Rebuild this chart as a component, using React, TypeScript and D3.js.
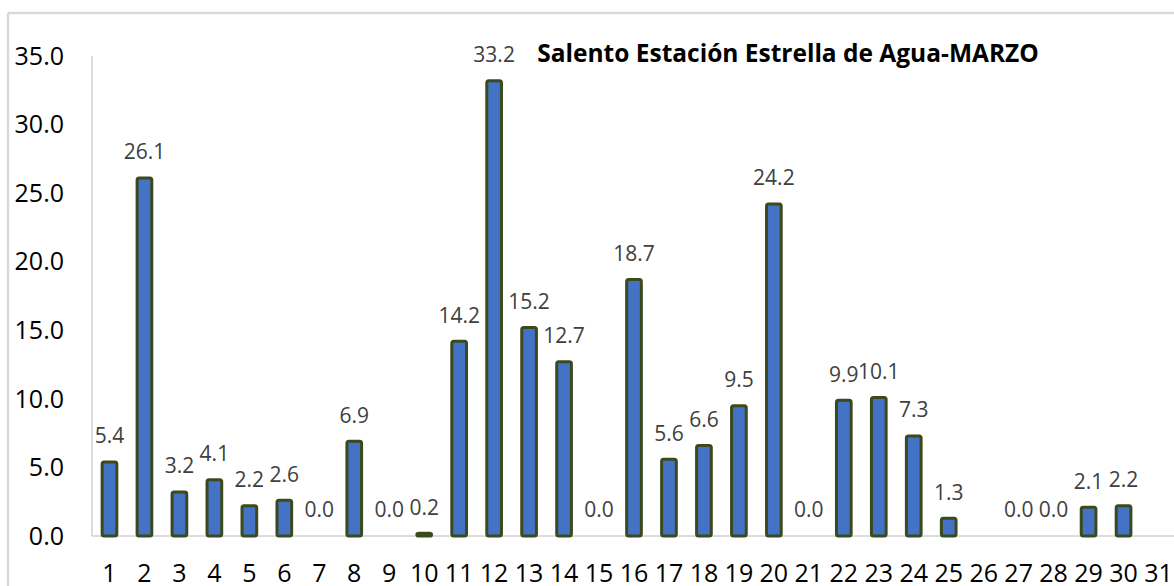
import React from "react";
import * as d3 from "d3";

const days: string[] = Array.from({ length: 31 }, (_, i) => String(i + 1));
const rain: (number | null)[] = [
  5.4, 26.1, 3.2, 4.1, 2.2, 2.6, 0.0, 6.9, 0.0, 0.2,
  14.2, 33.2, 15.2, 12.7, 0.0, 18.7, 5.6, 6.6, 9.5, 24.2,
  0.0, 9.9, 10.1, 7.3, 1.3, null, 0.0, 0.0, 2.1, 2.2, null,
];
const yTicks: number[] = [0, 5, 10, 15, 20, 25, 30, 35];
const title = "Salento Estación Estrella de Agua-MARZO";

const W = 1174;
const H = 586;
const FONT = "'Open Sans', 'DejaVu Sans', sans-serif";

export default function App() {
  const x = d3.scaleBand<string>().domain(days).range([92, 1176]).padding(0);
  const y = d3.scaleLinear().domain([0, 35]).range([536, 56]);
  const bw = x.bandwidth() * 0.42;

  return (
    <>
      <style>{"body{margin:0}"}</style>
      <svg width={W} height={H} style={{ display: "block", background: "#fff" }}>
        {/* chart area border */}
        <line x1={8} y1={13} x2={W} y2={13} stroke="#d9d9d9" strokeWidth={2.5} />
        <line x1={8} y1={13} x2={8} y2={H} stroke="#d9d9d9" strokeWidth={2.5} />

        {/* y axis line */}
        <line x1={92} y1={y(35)} x2={92} y2={y(0)} stroke="#d0d0d0" strokeWidth={1.5} />
        {/* baseline */}
        <line x1={92} y1={y(0)} x2={W} y2={y(0)} stroke="#d0d0d0" strokeWidth={1.5} />

        {yTicks.map((t) => (
          <text
            key={t}
            x={64}
            y={y(t)}
            dy="0.35em"
            textAnchor="end"
            fontFamily={FONT}
            fontSize={25}
            fill="#000"
          >
            {t.toFixed(1)}
          </text>
        ))}

        {days.map((d, i) => {
          const v = rain[i];
          const cx = (x(d) as number) + x.bandwidth() / 2;
          return (
            <g key={d}>
              {v !== null && v > 0 && (
                <rect
                  x={cx - bw / 2}
                  y={y(v)}
                  width={bw}
                  height={y(0) - y(v)}
                  rx={2}
                  fill="#4472c4"
                  stroke="#3a4a1c"
                  strokeWidth={3}
                  strokeLinejoin="round"
                />
              )}
              {v !== null && (
                <text
                  x={cx}
                  y={y(v) - 26}
                  dy="0.35em"
                  textAnchor="middle"
                  fontFamily={FONT}
                  fontSize={21}
                  fill="#404040"
                >
                  {v.toFixed(1)}
                </text>
              )}
              <text
                x={cx}
                y={582}
                textAnchor="middle"
                fontFamily={FONT}
                fontSize={25}
                fill="#000"
              >
                {d}
              </text>
            </g>
          );
        })}

        <text
          x={788}
          y={53}
          dy="0.35em"
          textAnchor="middle"
          fontFamily={FONT}
          fontWeight="bold"
          fontSize={24.5}
          fill="#000"
        >
          {title}
        </text>
      </svg>
    </>
  );
}
